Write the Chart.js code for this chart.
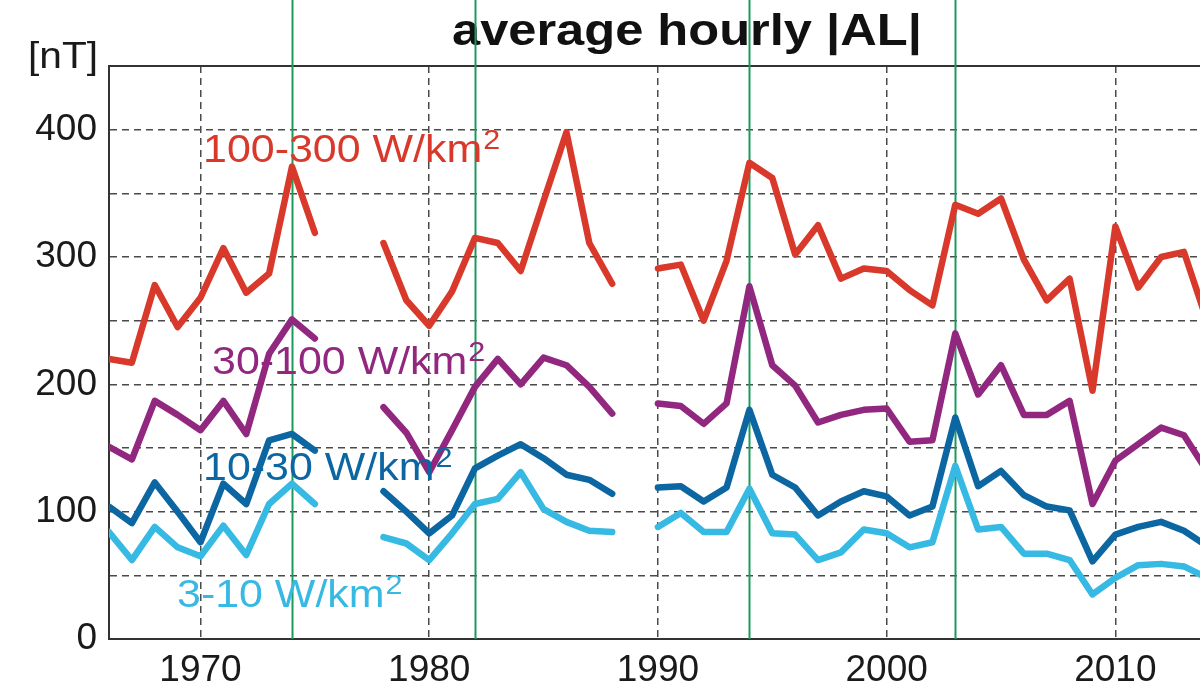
<!DOCTYPE html>
<html><head><meta charset="utf-8">
<script src="https://cdn.jsdelivr.net/npm/chart.js@4/dist/chart.umd.min.js"></script>
<style>html,body{margin:0;padding:0;background:#fff;overflow:hidden}#wrap{width:1200px;height:686px;position:relative}</style>
</head><body><div id="wrap"><canvas id="c" width="1200" height="686"></canvas></div>
<script>
// ---------------- data ----------------
const years = [1966,1967,1968,1969,1970,1971,1972,1973,1974,1975,1976,1977,1978,1979,1980,1981,1982,1983,1984,1985,1986,1987,1988,1989,1990,1991,1992,1993,1994,1995,1996,1997,1998,1999,2000,2001,2002,2003,2004,2005,2006,2007,2008,2009,2010,2011,2012,2013,2014];
const al100_300 = [220,217,278,245,268,307,272,287,371,319,null,null,311,266,246,273,315,311,289,344,398,311,279,null,291,294,250,297,374,362,302,325,283,291,289,274,262,341,334,346,298,266,283,195,324,276,300,304,250];
const al30_100  = [151,141,187,176,164,187,161,224,251,236,null,null,182,162,131,164,198,220,200,221,215,198,177,null,185,183,169,185,277,215,199,170,176,180,181,155,156,240,192,215,176,176,187,106,140,153,166,160,132];
const al10_30   = [104,91,123,100,76,122,106,156,161,148,null,null,116,100,83,97,134,144,153,142,129,125,114,null,119,120,108,119,180,129,119,97,108,116,112,97,104,174,120,132,113,104,101,61,82,88,92,85,73];
const al3_10    = [84,62,88,72,65,89,66,106,122,106,null,null,80,75,62,83,106,110,131,102,92,85,84,null,88,99,84,84,118,83,82,62,68,86,83,72,76,136,86,88,67,67,62,35,48,58,59,57,48];
const seriesLabels = ['100-300 W/km', '30-100 W/km', '10-30 W/km', '3-10 W/km'];
const seriesLabelSup = '2';
const markerYears = [1974, 1982, 1994, 2003];
const xTickValues = [1970, 1980, 1990, 2000, 2010];
const yGridValues = [0, 50, 100, 150, 200, 250, 300, 350, 400, 450];
const yLabelValues = [0, 100, 200, 300, 400];
const titleText = 'average hourly |AL|';
const unitText = '[nT]';

// ---------------- styles ----------------
const FONT = '"Liberation Sans", Arial, Helvetica, sans-serif';
const colors = ['#d8392b', '#922780', '#0b66a1', '#36b9e2'];
const labelPos = [[203, 162], [212, 374], [203, 480], [177, 607]];
const SX = 1.13;

function toPoints(vals) { return years.map((y, i) => ({ x: y, y: vals[i] })); }
const allSeries = [al100_300, al30_100, al10_30, al3_10];

function stretchText(ctx, text, x, y, font, color, sx) {
  ctx.save();
  ctx.font = font; ctx.fillStyle = color; ctx.textBaseline = 'alphabetic'; ctx.textAlign = 'left';
  ctx.translate(x, y); ctx.scale(sx, 1); ctx.fillText(text, 0, 0);
  const w = ctx.measureText(text).width * sx;
  ctx.restore();
  return w;
}

const decor = {
  id: 'decor',
  beforeDraw(chart) {
    const ctx = chart.ctx;
    ctx.save(); ctx.fillStyle = '#fff'; ctx.fillRect(0, 0, chart.width, chart.height); ctx.restore();
    stretchText(ctx, titleText, 452, 45, 'bold 44px ' + FONT, '#111', 1.15);
    stretchText(ctx, unitText, 28, 68, '36px ' + FONT, '#1a1a1a', SX);
  },
  beforeDatasetsDraw(chart) {
    const ctx = chart.ctx, xs = chart.scales.x, ca = chart.chartArea;
    ctx.save();
    ctx.strokeStyle = '#333'; ctx.lineWidth = 2;
    ctx.beginPath(); ctx.moveTo(ca.left, ca.top); ctx.lineTo(ca.right, ca.top); ctx.stroke();
    ctx.strokeStyle = '#1c9a5c'; ctx.lineWidth = 2;
    markerYears.forEach(yr => {
      const px = Math.round(xs.getPixelForValue(yr)) + 0.5;
      ctx.beginPath(); ctx.moveTo(px, 0); ctx.lineTo(px, ca.bottom); ctx.stroke();
    });
    ctx.restore();
  },
  afterDatasetsDraw(chart) {
    const ctx = chart.ctx;
    seriesLabels.forEach((t, i) => {
      const [x, y] = labelPos[i];
      const w = stretchText(ctx, t, x, y, '38px ' + FONT, colors[i], SX);
      stretchText(ctx, seriesLabelSup, x + w + 1, y - 13, '27px ' + FONT, colors[i], SX);
    });
  }
};

const gridDash = [7, 5];
new Chart(document.getElementById('c'), {
  type: 'line',
  data: {
    datasets: allSeries.map((vals, i) => ({
      label: seriesLabels[i] + seriesLabelSup,
      data: toPoints(vals),
      borderColor: colors[i],
      backgroundColor: colors[i],
      borderWidth: 6.5,
      borderJoinStyle: 'round',
      borderCapStyle: 'round',
      pointRadius: 0,
      tension: 0,
      spanGaps: false,
      fill: false
    }))
  },
  options: {
    responsive: false,
    animation: false,
    devicePixelRatio: 1,
    layout: { padding: { top: 66, left: 0, right: 0, bottom: 0 } },
    plugins: { legend: { display: false }, title: { display: false }, tooltip: { enabled: false } },
    scales: {
      x: {
        type: 'linear', min: 1966, max: 2013.7,
        afterBuildTicks: s => { s.ticks = xTickValues.map(v => ({ value: v })); },
        afterFit: s => { s.height = 47; },
        grid: { color: '#4a4a4a', lineWidth: 1.5, drawTicks: false },
        border: { display: true, color: '#333', width: 2, dash: gridDash },
        ticks: { font: { family: FONT, size: 37 }, color: '#1a1a1a', padding: 10, maxRotation: 0, autoSkip: false, callback: v => String(v) }
      },
      y: {
        type: 'linear', min: 0, max: 450,
        afterBuildTicks: s => { s.ticks = yGridValues.map(v => ({ value: v })); },
        afterFit: s => { s.width = 109; },
        grid: { color: c => (c.tick && (c.tick.value === 0 || c.tick.value === 450)) ? 'rgba(0,0,0,0)' : '#4a4a4a', lineWidth: 1.5, drawTicks: false },
        border: { display: true, color: '#333', width: 2, dash: gridDash },
        ticks: { font: { family: FONT, size: 37 }, color: '#1a1a1a', padding: 12, autoSkip: false, callback: v => yLabelValues.includes(v) ? String(v) : '' }
      }
    }
  },
  plugins: [decor]
});
</script></body></html>
